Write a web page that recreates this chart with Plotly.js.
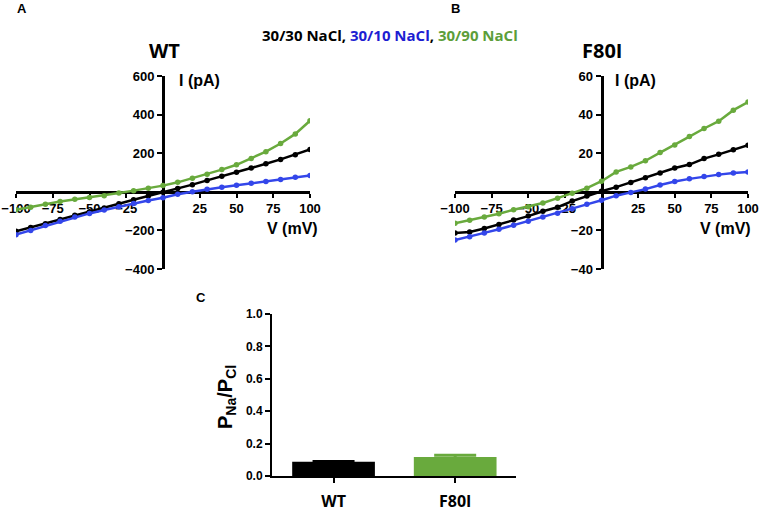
<!DOCTYPE html>
<html>
<head>
<meta charset="utf-8">
<script src="https://cdn.plot.ly/plotly-3.0.1.min.js"></script>
<style>
  html, body { margin: 0; padding: 0; background: #fff; }
  #chart { width: 762px; height: 511px; }
</style>
</head>
<body>
<div id="chart"></div>
<script>
// membrane potential (mV)
const volts = [-100, -90, -80, -70, -60, -50, -40, -30, -20, -10, 0, 10, 20, 30, 40, 50, 60, 70, 80, 90, 100];

// WT currents (pA)
const wt3030 = [-205, -185, -165, -143, -122, -103, -84, -62, -41, -22, -2, 17, 37, 59, 80, 101, 123, 145, 168, 192, 219];
const wt3010 = [-222, -200, -175, -152, -131, -112, -94, -77, -60, -45, -31, -13, 0, 13, 24, 34, 44, 54, 64, 75, 84];
const wt3090 = [-93, -80, -64, -50, -39, -30, -20, -6, 6, 18, 32, 49, 70, 91, 115, 140, 172, 208, 250, 300, 368];

// F80I currents (pA)
const f3030 = [-21.3, -20.8, -19, -17, -14.6, -12.6, -10.1, -8, -4.8, -2.2, 0.3, 2.4, 4.8, 7.3, 9.8, 12.3, 14.1, 17.2, 19.4, 21.8, 24.1];
const f3010 = [-25, -23.3, -21.3, -19.4, -17.3, -15.2, -13.1, -11.1, -8.8, -6.5, -4.4, -2.0, -0.3, 1.4, 3.5, 5.3, 6.7, 7.9, 8.9, 9.7, 10.3];
const f3090 = [-16.3, -14.7, -13, -11.4, -9.3, -7.7, -5.8, -3.3, -0.7, 1.9, 5.5, 10.3, 12.9, 16.1, 20.3, 24.3, 28.6, 32.8, 36.6, 42.3, 46.5];

// permeability ratio P_Na/P_Cl
const mutants = ["WT", "F80I"];
const ratio = [0.088, 0.118];
const ratioErr = [0.002, 0.01];

const BLACK = "#000000", BLUE = "#3346ea", GREEN = "#69aa3d";
const barColors = [BLACK, GREEN];
const tickFont = { family: "Liberation Sans, Arial", size: 13, color: "#000", weight: 700 };

function ivTrace(y, color, xa, ya) {
  return {
    x: volts, y: y, xaxis: xa, yaxis: ya,
    type: "scatter", mode: "lines+markers",
    line: { color: color, width: 2.5 },
    marker: { color: color, size: 5.5 },
    hoverinfo: "skip"
  };
}

const data = [
  ivTrace(wt3030, BLACK, "x", "y"),
  ivTrace(wt3010, BLUE, "x", "y"),
  ivTrace(wt3090, GREEN, "x", "y"),
  ivTrace(f3030, BLACK, "x2", "y2"),
  ivTrace(f3010, BLUE, "x2", "y2"),
  ivTrace(f3090, GREEN, "x2", "y2")
];
// one bar trace per genotype so each error cap takes its bar's colour
mutants.forEach((m, i) => {
  data.push({
    x: [m], y: [ratio[i]], xaxis: "x3", yaxis: "y3", type: "bar",
    width: 0.68,
    marker: { color: barColors[i] },
    error_y: { type: "data", array: [ratioErr[i]], visible: true, color: barColors[i], thickness: 3, width: 21 }
  });
});

const px = v => v / 762;
const py = v => 1 - v / 511;

const ivDomY = [py(269), py(76)];
const zeroY = ivDomY[0] + 0.4 * (ivDomY[1] - ivDomY[0]);

function ivX(domain) {
  return {
    domain: domain, range: [-100, 100], anchor: "free", position: zeroY,
    showline: true, linewidth: 3, linecolor: "#000", zeroline: false, showgrid: false,
    ticks: "outside", ticklen: 4, tickwidth: 2, tickcolor: "#000",
    tickvals: [-100, -75, -50, -25, 25, 50, 75, 100], tickfont: tickFont, layer: "below traces"
  };
}
function ivY(range, vals, pos) {
  return {
    domain: ivDomY, range: range, anchor: "free", position: pos,
    showline: true, linewidth: 3, linecolor: "#000", zeroline: false, showgrid: false,
    ticks: "outside", ticklen: 5, tickwidth: 2, tickcolor: "#000",
    tickvals: vals, tickfont: tickFont, layer: "below traces"
  };
}

const domA = [px(16), px(310)];
const domB = [px(455), px(748)];

const lbl = (text, x, y, size, extra) => Object.assign({
  text: text, xref: "paper", yref: "paper", x: px(x), y: py(y),
  showarrow: false, xanchor: "center", yanchor: "middle",
  font: { family: "Liberation Sans, Arial", size: size, color: "#000", weight: 700 }
}, extra || {});

const layout = {
  width: 762, height: 511,
  margin: { l: 0, r: 0, t: 0, b: 0 },
  paper_bgcolor: "#fff", plot_bgcolor: "rgba(0,0,0,0)",
  showlegend: false,
  barmode: "overlay",
  xaxis: ivX(domA),
  yaxis: ivY([-400, 600], [-400, -200, 200, 400, 600], (domA[0] + domA[1]) / 2),
  xaxis2: ivX(domB),
  yaxis2: ivY([-40, 60], [-40, -20, 20, 40, 60], (domB[0] + domB[1]) / 2),
  xaxis3: {
    domain: [px(272), px(516)], range: [-0.506, 1.5], anchor: "y3",
    showline: true, linewidth: 2, linecolor: "#000", showgrid: false, zeroline: false,
    ticks: "outside", ticklen: 5, tickwidth: 2, tickcolor: "#000", ticklabelstandoff: 5,
    tickfont: { family: "Open Sans", size: 16, color: "#000", weight: 700 }
  },
  yaxis3: {
    domain: [py(476), py(314)], range: [0, 1], anchor: "x3",
    showline: true, linewidth: 2, linecolor: "#000", showgrid: false, zeroline: false,
    ticks: "outside", ticklen: 5, tickwidth: 2, tickcolor: "#000",
    tickvals: [0, 0.2, 0.4, 0.6, 0.8, 1.0], tickformat: ".1f",
    tickfont: { family: "Liberation Sans, Arial", size: 12, color: "#000", weight: 700 }
  },
  annotations: [
    lbl("A", 22, 9, 13),
    lbl("B", 455, 9, 13),
    lbl("C", 201, 297, 13),
    lbl("30/30 NaCl, <span style='color:#1d1dd2'>30/10 NaCl</span>, <span style='color:#5c9e3a'>30/90 NaCl</span>",
        390, 35, 15, { font: { family: "Open Sans", size: 15, color: "#000", weight: 700 } }),
    lbl("WT", 164, 50, 20, { font: { family: "Open Sans", size: 20, color: "#000", weight: 700 } }),
    lbl("F80I", 602, 50, 20, { font: { family: "Open Sans", size: 20, color: "#000", weight: 700 } }),
    lbl("I (pA)", 177, 80, 16, { xanchor: "left" }),
    lbl("V (mV)", 320, 228, 16, { xanchor: "right" }),
    lbl("I (pA)", 613, 80, 16, { xanchor: "left" }),
    lbl("V (mV)", 753, 228, 16, { xanchor: "right" }),
    lbl("P<sub>Na</sub>/P<sub>Cl</sub>", 226, 397, 20, { textangle: -90 })
  ]
};

Plotly.newPlot("chart", data, layout, { displayModeBar: false, staticPlot: true });
</script>
</body>
</html>
